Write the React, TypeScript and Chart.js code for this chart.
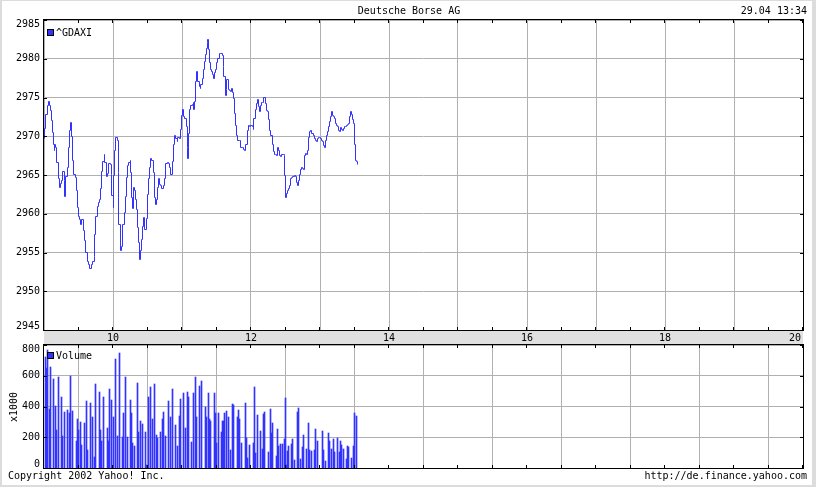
import { useEffect, useRef } from "react";
import { Chart, registerables } from "chart.js";
Chart.register(...registerables);

const FONT = '10px "DejaVu Sans Mono", "Liberation Mono", monospace';
const TITLE = "Deutsche Borse AG";
const STAMP = "29.04 13:34";
const PRICE_LABEL = "^GDAXI";
const VOLUME_LABEL = "Volume";
const VOLUME_UNIT = "x1000";
const COPYRIGHT = "Copyright 2002 Yahoo! Inc.";
const URL_TEXT = "http://de.finance.yahoo.com";

const X_MIN = 540; // 9:00 in minutes
const X_MAX = 1200; // 20:00
const PRICE_MIN = 2945;
const PRICE_MAX = 2985;
const PRICE_STEP = 5;
const VOL_MIN = 0;
const VOL_MAX = 800;
const VOL_STEP = 200;

const LINE_COLOR = "#3333ff";
const GRID_COLOR = "#b0b0b0";
const BAND_COLOR = "#e0e0e0";

// minutes after 9:00
const priceMinutes = [
  0, 0.6, 1.7, 2.9, 3.7, 4.6, 5.5, 6.6, 7.5, 8.1, 9.0, 9.5, 10.4, 11.3, 12.2, 13.3, 14.5, 15.3, 16.2, 17.4,
  18.2, 19.1, 20.3, 21.1, 22.3, 23.2, 24.0, 24.9, 25.8, 27.2, 28.4, 29.3, 30.1, 31.3, 32.0, 33.0, 34.2, 35.1,
  36.2, 37.4, 38.5, 39.7, 40.9, 42.0, 43.5, 44.3, 45.2, 46.4, 47.2, 48.4, 49.3, 50.1, 51.3, 52.2, 53.0, 54.2,
  55.1, 56.2, 57.4, 58.3, 59.1, 60.0, 60.6, 61.5, 62.3, 63.5, 64.4, 65.2, 66.1, 67.3, 68.4, 69.6, 70.7, 71.9,
  72.8, 73.9, 74.8, 75.4, 76.2, 76.8, 77.4, 78.6, 79.4, 80.3, 81.2, 82.0, 82.9, 83.8, 84.7, 85.8, 86.7, 87.8,
  88.7, 89.9, 90.7, 91.6, 92.8, 93.9, 95.1, 96.0, 96.8, 97.7, 98.6, 99.4, 100.6, 101.5, 102.6, 103.8, 104.7,
  105.8, 107.0, 108.4, 109.3,
  110.1, 111.6, 112.5, 113.3, 114.5, 115.7, 116.5, 117.7, 118.8, 119.7, 120.6, 121.7, 122.6, 123.5, 124.4,
  124.9, 125.5, 126.4, 127.5, 128.7, 129.6, 130.4, 131.3, 131.9, 132.8, 133.6, 134.8, 135.7, 136.5, 137.4,
  138.3, 139.4, 140.3, 141.2, 142.0, 142.6, 143.2, 144.1, 144.9, 145.8, 146.7, 147.5, 148.4, 149.3, 150.2,
  151.0, 152.2, 153.6, 154.8, 155.7, 156.5, 157.4, 158.3, 159.1, 160.0, 161.2, 162.3, 163.2, 164.1, 165.0,
  165.8, 166.7, 167.6, 168.4, 169.6, 170.5, 171.3, 172.5, 173.4, 174.5, 175.4, 176.6, 177.4, 178.6, 179.7,
  180.9, 181.8, 182.6, 183.8, 185.0, 185.8, 186.7, 187.6, 188.4, 189.3, 190.2, 191.3, 192.2, 193.4, 194.2,
  195.4, 196.3, 197.1, 198.3, 199.2, 200.0, 201.2, 202.1, 202.9, 203.8, 204.7, 205.5, 206.7, 207.9, 208.7,
  209.3, 209.9, 210.8, 211.6, 212.8, 213.7, 214.5, 215.4, 216.3, 217.4, 218.3, 219.2, 220.1, 220.9, 221.8,
  222.7, 223.5, 224.4, 225.6, 226.4, 227.3, 228.5, 229.3, 230.2, 231.1, 231.9, 232.8, 234.0, 234.8, 236.0,
  236.9, 237.7, 238.6, 239.5, 240.3, 241.2, 242.1, 242.9, 243.8, 245.0, 245.9, 246.7, 247.6, 248.5, 249.3,
  250.2, 251.1, 251.9, 252.8, 253.7, 254.6, 255.4, 256.3, 257.2, 258.0, 258.9, 259.8, 260.7, 261.5, 262.4,
  263.3, 264.1, 265.0, 265.9, 266.7, 267.6, 268.5, 269.4, 269.9, 270.8, 271.7, 272.5,
];

const priceValues = [
  2969.7, 2971.0, 2972.8, 2974.0, 2974.5, 2974.0, 2973.3, 2972.0, 2970.5, 2969.0, 2968.2, 2969.0, 2968.6,
  2966.6, 2964.5, 2963.4, 2963.9, 2964.3, 2965.5, 2964.3, 2962.2, 2964.8, 2966.0, 2968.6, 2970.8, 2971.8,
  2970.0, 2966.9, 2965.1, 2964.7, 2963.0, 2960.8, 2959.7, 2959.3, 2958.6, 2959.2, 2957.8, 2956.5, 2955.0,
  2953.9, 2953.5, 2953.0, 2953.5, 2953.9, 2954.5, 2957.3, 2959.7, 2961.0, 2961.5, 2961.8, 2963.2, 2965.5,
  2966.8, 2967.6, 2966.6, 2964.8, 2965.2, 2966.5, 2966.3, 2965.1, 2962.3, 2960.8, 2964.9, 2968.2, 2969.9,
  2969.5, 2965.3, 2958.6, 2955.2, 2955.8, 2958.6, 2960.2, 2962.2, 2964.7, 2966.2, 2966.6, 2966.9, 2965.3,
  2962.1, 2960.7, 2963.4, 2963.0, 2961.9, 2960.6, 2958.2, 2956.3, 2954.1, 2955.2, 2956.7, 2958.4, 2959.5,
  2958.0, 2959.4, 2962.5, 2964.5, 2966.0, 2967.1, 2966.9, 2965.3, 2962.1, 2961.2, 2961.8, 2963.4, 2964.6,
  2963.8, 2963.6, 2963.2, 2963.6, 2964.6, 2966.5, 2966.6, 2966.5, 2966.0,
  2965.1, 2966.7, 2969.0, 2970.1, 2969.7, 2969.3, 2969.8, 2969.7, 2970.9, 2972.7, 2973.4, 2972.5, 2972.3,
  2971.2, 2968.6, 2967.1, 2970.3, 2973.5, 2974.0, 2974.1, 2974.3, 2973.4, 2974.5, 2977.1, 2978.4, 2977.1,
  2976.4, 2976.1, 2976.7, 2977.5, 2978.6, 2979.6, 2980.6, 2981.3, 2982.1, 2982.5, 2981.2, 2979.5, 2978.6,
  2978.3, 2978.0, 2977.5, 2978.2, 2978.6, 2979.5, 2980.0, 2980.7, 2980.7, 2980.4, 2979.0, 2977.7, 2975.3,
  2976.0, 2977.3, 2976.0, 2975.9, 2975.8, 2976.2, 2975.6, 2974.9, 2973.0, 2971.4, 2970.1, 2969.5, 2969.5,
  2968.6, 2968.5, 2968.5, 2968.3, 2968.1, 2969.0, 2970.8, 2971.4, 2971.2, 2971.4, 2971.2, 2970.9, 2972.3,
  2973.4, 2974.2, 2974.7, 2973.9, 2973.2, 2974.0, 2974.3, 2974.4, 2975.0, 2974.2, 2973.3, 2973.2, 2972.1,
  2970.8, 2970.1, 2969.0, 2968.0, 2967.7, 2967.6, 2967.5, 2968.6, 2968.1, 2967.5, 2967.4, 2967.6, 2967.6,
  2967.5, 2964.9, 2962.1, 2962.6, 2963.0, 2963.2, 2963.6, 2964.5, 2964.7, 2964.8, 2964.9, 2964.8, 2964.0,
  2963.7, 2964.3, 2965.1, 2965.7, 2966.0, 2965.8, 2965.7, 2967.5, 2967.8, 2967.7, 2968.2, 2969.9, 2970.6,
  2970.8, 2970.4, 2970.1, 2969.7, 2969.5, 2969.3, 2969.7, 2969.9, 2969.9, 2969.7, 2969.5, 2969.3, 2968.8,
  2968.6, 2969.5, 2970.1, 2970.6, 2971.2, 2971.9, 2972.6, 2973.2, 2972.7, 2972.6, 2972.3, 2971.7, 2971.4,
  2971.2, 2970.8, 2970.6, 2971.1, 2970.9, 2970.8, 2971.0, 2971.2, 2971.3, 2971.4, 2971.5, 2971.7, 2972.6,
  2973.2, 2972.8, 2972.2, 2971.7, 2969.0, 2966.9, 2966.7, 2966.3,
];

// minutes after 9:00
const volumeMinutes = [
  1, 2, 3, 5, 6, 8, 10, 11, 13, 15, 16, 18, 20, 22, 23, 25, 28, 29, 30, 32, 33, 35, 37, 38, 40, 42, 44, 45,
  48, 49, 50, 52, 55, 56, 57, 59, 60, 62, 64, 66, 68, 69, 71, 73, 75, 76, 77, 79, 81, 82, 84, 86, 88, 89, 91,
  93, 94, 96, 98, 99, 101, 103, 104, 106, 108, 110, 112, 114, 116, 118, 119, 121, 123, 125, 126, 128, 130,
  132, 133, 135, 137, 140, 141, 143, 144, 145, 148, 149, 150, 152, 154, 155, 156, 157, 159, 160, 162, 164,
  165, 168, 169, 170, 172, 175, 176, 177, 179, 182, 183, 184, 186, 188, 190, 191, 192, 195, 197, 198, 199,
  202, 203, 204, 206, 207, 209, 210, 211, 212, 213, 215, 216, 218, 220, 221, 223, 225, 226, 228, 230, 231,
  233, 235, 236, 238, 242, 243, 245, 247, 248, 250, 252, 253, 255, 257, 258, 259, 260, 263, 264, 265, 267,
  269, 270, 272,
];

// thousands
const volumeValues = [
  720, 650, 770, 385, 660, 580, 405, 245, 590, 460, 205, 365, 375, 360, 600, 370, 175, 320, 245, 300, 150,
  290, 435, 115, 420, 330, 70, 545, 495, 250, 178, 465, 262, 178, 515, 445, 330, 710, 205, 750, 200, 355,
  595, 200, 440, 355, 162, 145, 550, 237, 308, 283, 233, 18, 460, 528, 320, 545, 215, 197, 237, 320, 362,
  210, 435, 332, 515, 277, 145, 340, 450, 488, 263, 495, 465, 172, 490, 590, 330, 532, 563, 398, 330, 490,
  320, 305, 487, 355, 162, 355, 237, 303, 308, 360, 372, 333, 117, 418, 410, 333, 375, 316, 162, 420, 195,
  66, 150, 162, 530, 97, 347, 242, 121, 353, 366, 103, 386, 228, 294, 78, 254, 141, 156, 154, 188, 458, 18,
  110, 145, 156, 188, 51, 362, 390, 60, 136, 215, 125, 294, 119, 110, 119, 254, 175, 243, 116, 44, 228, 175,
  125, 188, 105, 195, 105, 175, 150, 125, 60, 143, 136, 64, 143, 357, 340,
];

const priceData = priceMinutes.map((m, i) => ({ x: X_MIN + m, y: priceValues[i] }));
const volumeData = volumeMinutes.map((m, i) => ({ x: X_MIN + m, y: volumeValues[i] }));

// snap the library-computed element positions to the pixel grid for crisp 1px marks
const snapPlugin = {
  id: "pixelSnap",
  beforeDatasetsDraw(chart: any) {
    chart.getSortedVisibleDatasetMetas().forEach((meta: any) => {
      meta.data.forEach((el: any) => {
        if (meta.type === "bar") {
          el.x = Math.floor(el.x) + 0.5;
          el.y = Math.round(el.y);
          el.base = Math.round(el.base);
        } else {
          el.x = Math.floor(el.x) + 0.5;
          el.y = Math.floor(el.y) + 0.5;
        }
      });
    });
  },
};

function drawFrame(chart: any, legendText: string, legendDy: number) {
  const { ctx, chartArea: a, scales } = chart;
  const xs = scales.x;
  const ys = scales.y;
  const L = Math.round(a.left);
  const R = Math.round(a.right);
  const T = Math.round(a.top);
  const B = Math.round(a.bottom);
  ctx.save();
  ctx.strokeStyle = "#000";
  ctx.lineWidth = 1;
  ctx.strokeRect(L - 0.5, T - 0.5, R - L + 1, B - T + 1);
  ctx.beginPath();
  ys.ticks.forEach((t: any) => {
    const py = Math.round(ys.getPixelForValue(t.value)) + 0.5;
    ctx.moveTo(L, py);
    ctx.lineTo(L + 3, py);
    ctx.moveTo(R - 3, py);
    ctx.lineTo(R, py);
  });
  for (let v = X_MIN; v <= X_MAX; v += 30) {
    const px = Math.round(xs.getPixelForValue(v)) - 0.5;
    ctx.moveTo(px, T);
    ctx.lineTo(px, T + 3);
    ctx.moveTo(px, B - 3);
    ctx.lineTo(px, B);
  }
  ctx.stroke();
  ctx.font = FONT;
  ctx.fillStyle = "#000";
  ctx.textAlign = "right";
  ctx.textBaseline = "middle";
  ys.ticks.forEach((t: any) => {
    let py = ys.getPixelForValue(t.value);
    py = Math.min(Math.max(py, T + 4), B - 4);
    ctx.fillText(String(t.value), L - 4, py);
  });
  // legend
  ctx.fillStyle = "#000";
  ctx.fillRect(L + 3, T + legendDy - 3, 7, 7);
  ctx.fillStyle = LINE_COLOR;
  ctx.fillRect(L + 4, T + legendDy - 2, 5, 5);
  ctx.fillStyle = "#000";
  ctx.textAlign = "left";
  ctx.fillText(legendText, L + 12, T + legendDy + 1);
  ctx.restore();
}

const pricePlugin = {
  id: "priceFrame",
  afterDraw(chart: any) {
    const { ctx, chartArea: a, scales } = chart;
    const xs = scales.x;
    const L = Math.round(a.left);
    const R = Math.round(a.right);
    const B = Math.round(a.bottom);
    ctx.save();
    ctx.fillStyle = BAND_COLOR;
    ctx.fillRect(L, B + 1, R - L, 14);
    ctx.restore();
    drawFrame(chart, PRICE_LABEL, 12);
    ctx.save();
    ctx.font = FONT;
    ctx.fillStyle = "#000";
    ctx.textBaseline = "middle";
    ctx.textAlign = "center";
    ctx.fillText(TITLE, 409, 11);
    ctx.textAlign = "right";
    ctx.fillText(STAMP, 807, 11);
    ctx.textAlign = "center";
    xs.ticks.forEach((t: any) => {
      const v = t.value;
      if (v <= X_MIN || v % 120 !== 0) return;
      const label = String(v / 60);
      const w = ctx.measureText(label).width;
      let px = xs.getPixelForValue(v);
      if (px + w / 2 > R - 2) px = R - 2 - w / 2;
      ctx.fillText(label, px, B + 8);
    });
    ctx.restore();
  },
};

const volumePlugin = {
  id: "volumeFrame",
  afterDraw(chart: any) {
    const { ctx } = chart;
    drawFrame(chart, VOLUME_LABEL, 10);
    ctx.save();
    ctx.font = FONT;
    ctx.fillStyle = "#000";
    ctx.textBaseline = "middle";
    ctx.textAlign = "left";
    ctx.fillText(COPYRIGHT, 8, 132);
    ctx.textAlign = "right";
    ctx.fillText(URL_TEXT, 807, 132);
    ctx.translate(14, 63);
    ctx.rotate(-Math.PI / 2);
    ctx.textAlign = "center";
    ctx.fillText(VOLUME_UNIT, 0, 0);
    ctx.restore();
  },
};

function xScale() {
  return {
    type: "linear" as const,
    min: X_MIN,
    max: X_MAX,
    offset: false,
    ticks: { display: false, stepSize: 60 },
    grid: { color: GRID_COLOR, lineWidth: 1, drawTicks: false },
    border: { display: false },
  };
}

export default function App() {
  const topRef = useRef<HTMLCanvasElement>(null);
  const botRef = useRef<HTMLCanvasElement>(null);

  useEffect(() => {
    const c1 = new Chart(topRef.current as HTMLCanvasElement, {
      type: "line",
      data: {
        datasets: [
          {
            data: priceData,
            borderColor: LINE_COLOR,
            borderWidth: 1,
            pointRadius: 0,
            stepped: true,
            fill: false,
          },
        ],
      },
      options: {
        responsive: false,
        animation: false,
        devicePixelRatio: 1,
        events: [],
        layout: { padding: { left: 44, right: 13, top: 20, bottom: 15 } },
        plugins: { legend: { display: false }, tooltip: { enabled: false }, title: { display: false } },
        scales: {
          x: xScale(),
          y: {
            type: "linear",
            min: PRICE_MIN,
            max: PRICE_MAX,
            ticks: { display: false, stepSize: PRICE_STEP },
            grid: { color: GRID_COLOR, lineWidth: 1, drawTicks: false },
            border: { display: false },
          },
        },
      } as any,
      plugins: [snapPlugin, pricePlugin],
    });

    const c2 = new Chart(botRef.current as HTMLCanvasElement, {
      type: "bar",
      data: {
        datasets: [
          {
            data: volumeData,
            backgroundColor: LINE_COLOR,
            borderWidth: 0,
            barThickness: 1,
          },
        ],
      },
      options: {
        responsive: false,
        animation: false,
        devicePixelRatio: 1,
        events: [],
        layout: { padding: { left: 44, right: 13, top: 1, bottom: 19 } },
        plugins: { legend: { display: false }, tooltip: { enabled: false }, title: { display: false } },
        scales: {
          x: xScale(),
          y: {
            type: "linear",
            min: VOL_MIN,
            max: VOL_MAX,
            ticks: { display: false, stepSize: VOL_STEP },
            grid: { color: GRID_COLOR, lineWidth: 1, drawTicks: false },
            border: { display: false },
          },
        },
      } as any,
      plugins: [snapPlugin, volumePlugin],
    });

    return () => {
      c1.destroy();
      c2.destroy();
    };
  }, []);

  return (
    <div style={{ position: "absolute", left: 0, top: 0, width: 816, height: 487, background: "#fff" }}>
      <canvas ref={topRef} width={816} height={345} style={{ position: "absolute", left: 0, top: 0 }} />
      <canvas ref={botRef} width={816} height={143} style={{ position: "absolute", left: 0, top: 344 }} />
      <div
        style={{
          position: "absolute",
          left: 0,
          top: 0,
          width: 816,
          height: 487,
          boxSizing: "border-box",
          borderStyle: "solid",
          borderColor: "#dcdcdc",
          borderWidth: "1px 4px 2px 2px",
          pointerEvents: "none",
        }}
      />
    </div>
  );
}
